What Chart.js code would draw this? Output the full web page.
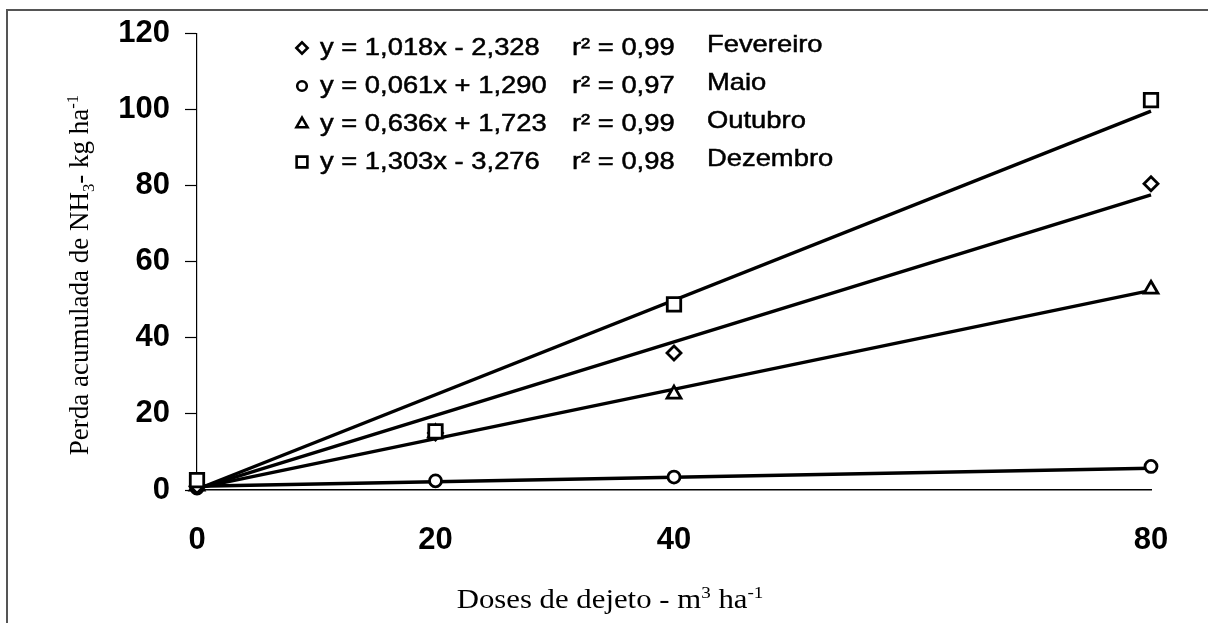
<!DOCTYPE html>
<html>
  <head>
    <title>Perda acumulada de NH3</title>
    <script src="https://cdn.jsdelivr.net/npm/chart.js@4/dist/chart.umd.min.js"></script>
    <style>
      body { margin: 0; background: #fff; }
      #container { width: 1208px; height: 623px; }
    </style>
  </head>
  <body>
    <div id="container">
      <canvas id="canvas" width="1208" height="623"></canvas>
    </div>
    <script>
      // doses (m3/ha) and measured accumulated loss (kg/ha)
      var doses = [0, 20, 40, 80];
      var fevereiro = [1, 15, 36, 80.5];
      var maio = [0.5, 2.4, 3.4, 6.2];
      var outubro = [1, 15, 25.2, 52.8];
      var dezembro = [2.6, 15.4, 48.8, 102.5];

      // fitted lines as drawn (ends at dose 0 and 80)
      var fitX = [0, 80];
      var fitFevereiro = [0.3, 77.6];
      var fitMaio = [1.0, 5.7];
      var fitOutubro = [0.5, 52.5];
      var fitDezembro = [0.2, 99.6];

      var xTicks = [0, 20, 40, 80];
      var months = ['Fevereiro', 'Maio', 'Outubro', 'Dezembro'];
      var equations = ['y = 1,018x - 2,328', 'y = 0,061x + 1,290', 'y = 0,636x + 1,723', 'y = 1,303x - 3,276'];
      var r2 = ['0,99', '0,97', '0,99', '0,98'];
      var markers = ['rectRot', 'circle', 'triangle', 'rect'];
      var markerRadius = { rectRot: 7, circle: 6, triangle: 8, rect: 9.5 };

      var STRETCH = 1.14; // the scanned figure is a bit wider than plain Arial

      function pts(xs, ys) {
        return xs.map(function (x, i) { return { x: x, y: ys[i] }; });
      }

      function fitSet(ys) {
        return {
          type: 'line',
          data: pts(fitX, ys),
          borderColor: '#000',
          borderWidth: 3.4,
          pointRadius: 0,
          fill: false,
          clip: false,
          order: 2,
        };
      }

      function markSet(ys, style) {
        return {
          type: 'scatter',
          data: pts(doses, ys),
          pointStyle: style,
          pointRadius: markerRadius[style],
          pointBorderWidth: 2.8,
          pointBorderColor: '#000',
          pointBackgroundColor: '#fff',
          showLine: false,
          clip: false,
          order: 1,
        };
      }

      function wideText(ctx, t, x, y) {
        ctx.save();
        ctx.translate(x, y);
        ctx.scale(STRETCH, 1);
        ctx.fillText(t, 0, 0);
        ctx.strokeText(t, 0, 0);
        ctx.restore();
      }

      // draws a run of text with sub/superscripts, centred on x
      function richText(ctx, parts, x, y, size, family, k) {
        var total = 0;
        parts.forEach(function (p) {
          ctx.font = (p.s ? size * 0.62 : size) + 'px ' + family;
          p.w = ctx.measureText(p.t).width;
          total += p.w;
        });
        ctx.save();
        ctx.translate(x, y);
        ctx.scale(k, 1);
        var cx = -total / 2;
        parts.forEach(function (p) {
          ctx.font = (p.s ? size * 0.62 : size) + 'px ' + family;
          var dy = p.s === 'sup' ? -size * 0.38 : p.s === 'sub' ? size * 0.22 : 0;
          ctx.fillText(p.t, cx, dy);
          cx += p.w;
        });
        ctx.restore();
      }

      var extras = {
        id: 'extras',
        beforeDraw: function (chart) {
          var ctx = chart.ctx;
          ctx.save();
          ctx.fillStyle = '#fff';
          ctx.fillRect(0, 0, chart.width, chart.height);
          ctx.strokeStyle = '#555';
          ctx.lineWidth = 2;
          ctx.beginPath();
          ctx.moveTo(7, 623);
          ctx.lineTo(7, 10);
          ctx.lineTo(1208, 10);
          ctx.stroke();
          ctx.restore();
        },
        afterDraw: function (chart) {
          var ctx = chart.ctx;
          var serif = '"Liberation Serif", "Times New Roman", serif';
          ctx.save();
          ctx.fillStyle = '#000';
          ctx.textBaseline = 'alphabetic';
          ctx.textAlign = 'left';

          richText(ctx, [
            { t: 'Doses de dejeto - m' }, { t: '3', s: 'sup' }, { t: ' ha' }, { t: '-1', s: 'sup' }
          ], 610, 608, 27, serif, STRETCH);

          ctx.save();
          ctx.translate(88, 275);
          ctx.rotate(-Math.PI / 2);
          richText(ctx, [
            { t: 'Perda acumulada de NH' }, { t: '3', s: 'sub' }, { t: '- kg ha' }, { t: '-1', s: 'sup' }
          ], 0, 0, 27, serif, 1);
          ctx.restore();

          // legend with equations
          var sans = '"Liberation Sans", Arial, sans-serif';
          for (var i = 0; i < months.length; i++) {
            var y = 48 + i * 38;
            ctx.save();
            ctx.fillStyle = '#fff';
            ctx.strokeStyle = '#000';
            ctx.lineWidth = 2.6;
            Chart.helpers.drawPoint(ctx, { pointStyle: markers[i], radius: markerRadius[markers[i]] * 0.8, borderWidth: 2.6, rotation: 0 }, 302, y);
            ctx.restore();
            ctx.font = '24px ' + sans;
            ctx.textBaseline = 'middle';
            ctx.strokeStyle = '#000';
            ctx.lineWidth = 0.5;
            wideText(ctx, equations[i], 320, y);
            wideText(ctx, 'r\u00b2 = ' + r2[i], 572, y);
            wideText(ctx, months[i], 707, y - 3);
          }
          ctx.restore();
        },
      };

      var tickFont = { family: '"Liberation Sans", Arial, sans-serif', size: 31, weight: 'bold' };

      window.onload = function () {
        var ctx = document.getElementById('canvas').getContext('2d');
        window.myChart = new Chart(ctx, {
          data: {
            datasets: [
              fitSet(fitDezembro),
              fitSet(fitFevereiro),
              fitSet(fitOutubro),
              fitSet(fitMaio),
              markSet(dezembro, 'rect'),
              markSet(fevereiro, 'rectRot'),
              markSet(outubro, 'triangle'),
              markSet(maio, 'circle'),
            ],
          },
          options: {
            responsive: false,
            animation: false,
            layout: { padding: { left: 0, right: 57, top: 31, bottom: 0 } },
            plugins: { legend: { display: false }, tooltip: { enabled: false } },
            scales: {
              x: {
                type: 'linear',
                min: 0,
                max: 80,
                afterBuildTicks: function (scale) {
                  scale.ticks = xTicks.map(function (v) { return { value: v }; });
                },
                afterFit: function (scale) { scale.height = 133; },
                grid: { display: true, drawOnChartArea: false, drawTicks: false },
                border: { color: '#000', width: 1.5 },
                ticks: { color: '#000', padding: 32, maxRotation: 0, font: tickFont },
              },
              y: {
                min: 0,
                max: 120,
                ticks: { stepSize: 20, color: '#000', padding: 15, font: tickFont },
                afterFit: function (scale) { scale.width = 197; },
                grid: { display: true, drawOnChartArea: false, drawTicks: true, tickLength: 12, color: '#000', tickWidth: 1.2 },
                border: { color: '#000', width: 1.2 },
              },
            },
          },
          plugins: [extras],
        });
      };
    </script>
  </body>
</html>
